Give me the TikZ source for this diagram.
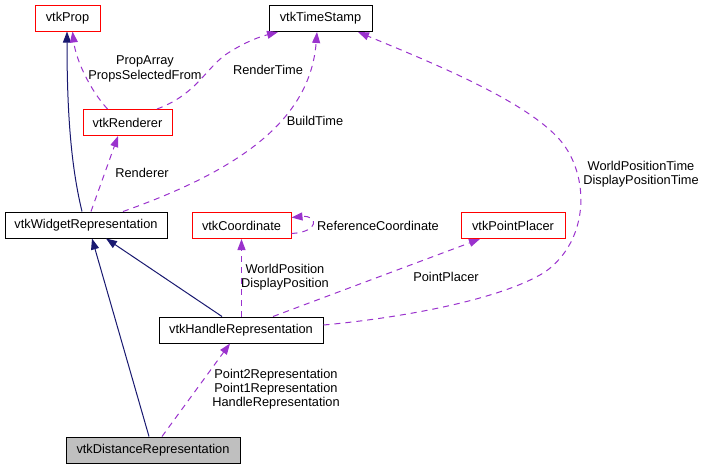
\documentclass[tikz,border=0pt]{standalone}
\usepackage{fontspec}
\setmainfont{Liberation Sans}
\usetikzlibrary{arrows.meta}
\definecolor{edgepurple}{HTML}{9A32CD}
\definecolor{inhnavy}{HTML}{191970}
\definecolor{nodered}{HTML}{FF0000}
\definecolor{nodegray}{HTML}{BFBFBF}
\begin{document}
\begin{tikzpicture}[x=1pt,y=-1pt,
  cls/.style={draw=black, line width=1pt, inner sep=0pt, minimum height=26pt, font=\fontsize{12.8}{14}\selectfont, anchor=center},
  redcls/.style={cls, draw=nodered},
  lbl/.style={font=\fontsize{12.8}{14.3}\selectfont, align=center, inner sep=0pt},
  inh/.style={draw=inhnavy, line width=1pt, -{Triangle[length=11pt,width=8pt]}},
  use/.style={draw=edgepurple, line width=1pt, dash pattern=on 6pt off 5pt, -{Triangle[length=11pt,width=8pt]}},
]
\useasboundingbox (0,0) rectangle (705,469);

% nodes
\node[redcls, minimum width=65pt] (prop) at (67.5,18) {vtkProp};
\node[cls, minimum width=103pt] (ts) at (320.5,18.5) {vtkTimeStamp};
\node[redcls, minimum width=89pt] (rend) at (127.5,122.5) {vtkRenderer};
\node[cls, minimum width=162pt] (w) at (86,225) {vtkWidgetRepresentation};
\node[redcls, minimum width=99pt] (coord) at (241.5,225.5) {vtkCoordinate};
\node[redcls, minimum width=104pt] (pp) at (513,225.5) {vtkPointPlacer};
\node[cls, minimum width=164pt] (hr) at (241,330) {vtkHandleRepresentation};
\node[cls, fill=nodegray, minimum width=174pt] (dr) at (153,450) {vtkDistanceRepresentation};

% labels
\node[lbl] (l1) at (145,69) {PropArray\\PropsSelectedFrom};
\node[lbl] (l2) at (268,70) {RenderTime};
\node[lbl] (l3) at (315,121) {BuildTime};
\node[lbl] (l4) at (142,173) {Renderer};
\node[lbl] (l5) at (378,226) {ReferenceCoordinate};
\node[lbl] (l6) at (285,277) {WorldPosition\\DisplayPosition};
\node[lbl] (l7) at (446,277) {PointPlacer};
\node[lbl] (l8) at (641,174) {WorldPositionTime\\DisplayPositionTime};
\node[lbl] (l9) at (276,389) {Point2Representation\\Point1Representation\\HandleRepresentation};

% inheritance
\draw[inh] ([xshift=-4pt]w.north) .. controls (72,170) and (67,120) .. ([xshift=-0.5pt]prop.south);
\draw[inh] ([xshift=-19pt]hr.north) -- ([xshift=20pt]w.south);
\draw[inh] ([xshift=-4pt]dr.north) -- ([xshift=6pt]w.south);

% usage
\draw[use] ([xshift=-20pt]rend.north) .. controls (90,90) and (76,60) .. ([xshift=5pt]prop.south);
\draw[use] ([xshift=29.5pt]rend.north) .. controls (195,95) and (205,70) .. (225,55) .. controls (240,45) and (255,38) .. ([xshift=-42.5pt]ts.south);
\draw[use] ([xshift=37pt]w.north) .. controls (240,170) and (310,120) .. ([xshift=-3.5pt]ts.south);
\draw[use] ([xshift=5pt]w.north) -- ([xshift=-9.5pt]rend.south);
\draw[use] ([yshift=-8pt]coord.east) .. controls (320,232) and (318,215) .. ([yshift=8pt]coord.east);
\draw[use] ([xshift=0.5pt]hr.north) -- ([xshift=0.5pt]hr.north |- coord.south);
\draw[use] ([xshift=32pt]hr.north) -- ([xshift=-33pt]pp.south);
\draw[use] ([yshift=5pt]hr.east) .. controls (400,318) and (500,300) .. (545,272) .. controls (590,240) and (590,175) .. (560,140) .. controls (525,100) and (430,62) .. ([xshift=37.5pt]ts.south);
\draw[use] ([xshift=9pt]dr.north) -- ([xshift=-11pt]hr.south);
\end{tikzpicture}
\end{document}
